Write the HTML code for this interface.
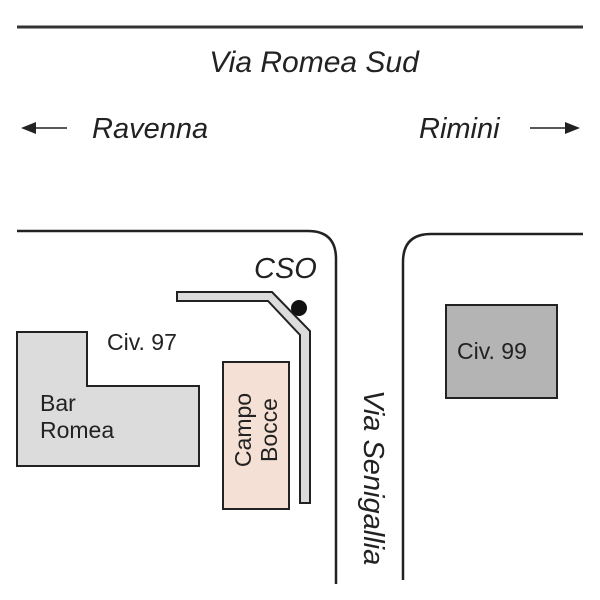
<!DOCTYPE html>
<html><head><style>body{margin:0;background:#fff}svg{display:block}text{font-family:"Liberation Sans",sans-serif;fill:#222}</style></head><body>
<svg width="600" height="600" viewBox="0 0 600 600">
<line x1="17" y1="27" x2="583" y2="27" stroke="#333" stroke-width="3"/>
<text x="314" y="72" font-size="30" font-style="italic" text-anchor="middle">Via Romea Sud</text>
<text x="92" y="138" font-size="29" font-style="italic">Ravenna</text>
<text x="419" y="138" font-size="29" font-style="italic">Rimini</text>
<line x1="30" y1="128" x2="67" y2="128" stroke="#222" stroke-width="1.5"/>
<polygon points="21,128 36,122 36,134" fill="#222"/>
<line x1="530" y1="128" x2="570" y2="128" stroke="#222" stroke-width="1.5"/>
<polygon points="580,128 565,122 565,134" fill="#222"/>
<path d="M17 231 H308 Q336 231 336 259 V584" fill="none" stroke="#222" stroke-width="2.5"/>
<path d="M403 580 V262 Q403 234 431 234 H583" fill="none" stroke="#222" stroke-width="2.5"/>
<polygon points="17,332 87,332 87,386 199,386 199,466 17,466" fill="#dcdcdc" stroke="#222" stroke-width="2"/>
<text x="40" y="411" font-size="23">Bar</text>
<text x="40" y="438" font-size="23">Romea</text>
<text x="107" y="350" font-size="23">Civ. 97</text>
<rect x="223" y="362" width="66" height="147" fill="#f4e0d4" stroke="#222" stroke-width="2"/>
<text transform="translate(251,430) rotate(-90)" font-size="23" text-anchor="middle">Campo</text>
<text transform="translate(277,430) rotate(-90)" font-size="23" text-anchor="middle">Bocce</text>
<path d="M177 292 H272 L310 331 V503 H300 V335 L268 301 H177 Z" fill="#dcdcdc" stroke="#222" stroke-width="2" stroke-linejoin="miter"/>
<circle cx="299" cy="308" r="8" fill="#111"/>
<text x="254" y="278" font-size="29" font-style="italic">CSO</text>
<rect x="446" y="305" width="111" height="93" fill="#b4b4b4" stroke="#222" stroke-width="2"/>
<text x="457" y="359" font-size="23">Civ. 99</text>
<text transform="translate(364,390) rotate(90)" font-size="29" font-style="italic">Via Senigallia</text>
</svg>
</body></html>
